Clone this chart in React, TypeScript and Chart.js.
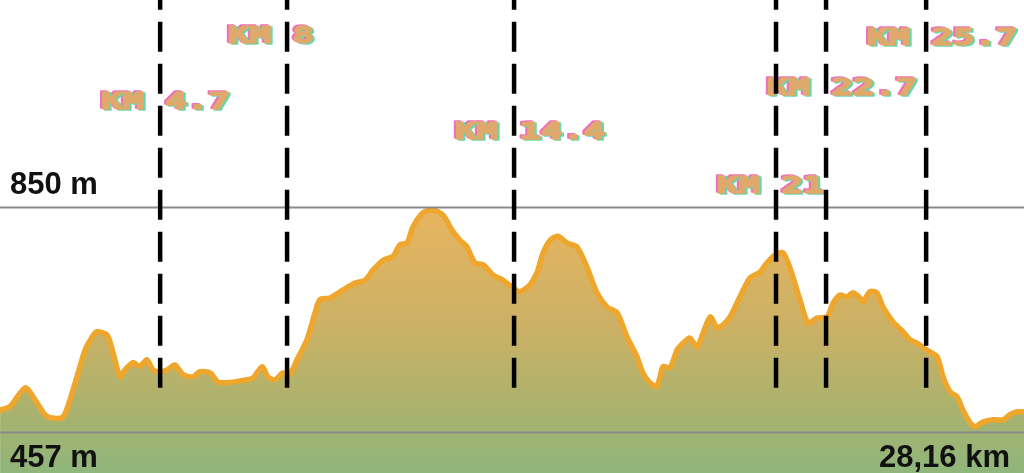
import React, { useEffect, useRef } from "react";
import { Chart, registerables } from "chart.js";

Chart.register(...registerables);

// Distance along the route (km) and elevation (m), read from the profile
const kms = [
  0.28, 0.55, 0.96, 1.23, 1.5, 1.69, 1.99, 2.18, 2.4, 2.59,
  2.78, 2.91, 3.19, 3.35, 3.54, 3.67, 3.89, 4.08, 4.27, 4.44,
  4.63, 4.82, 5.03, 5.25, 5.52, 5.71, 5.99, 6.2, 6.45, 6.8,
  7.15, 7.4, 7.56, 7.75, 7.97, 8.16, 8.35, 8.62, 8.84, 8.97,
  9.25, 9.6, 9.93, 10.2, 10.42, 10.69, 10.96, 11.15, 11.34, 11.5,
  11.77, 12.05, 12.32, 12.56, 12.78, 12.97, 13.19, 13.41, 13.68, 13.95,
  14.22, 14.41, 14.68, 14.87, 15.04, 15.23, 15.44, 15.69, 15.96, 16.23,
  16.5, 16.78, 17.05, 17.32, 17.59, 17.75, 17.94, 18.13, 18.3, 18.49,
  18.68, 18.84, 19.03, 19.22, 19.39, 19.58, 19.77, 19.93, 20.12, 20.39,
  20.66, 20.93, 21.12, 21.34, 21.56, 21.75, 22.02, 22.24, 22.48, 22.76,
  22.92, 23.11, 23.3, 23.46, 23.65, 23.73, 23.92, 24.11, 24.28, 24.55,
  24.82, 25.01, 25.2, 25.47, 25.75, 25.91, 26.1, 26.29, 26.45, 26.64,
  26.78, 26.99, 27.27, 27.54, 27.73, 27.92, 28.11,
];

const elevations = [
  495, 501, 534, 513, 487, 481, 483, 513, 560, 600,
  623, 632, 626, 595, 553, 565, 578, 571, 583, 565,
  562, 565, 574, 557, 553, 562, 560, 544, 543, 546,
  551, 571, 553, 548, 560, 558, 583, 618, 665, 688,
  691, 705, 717, 722, 740, 757, 764, 784, 787, 815,
  840, 845, 836, 810, 792, 780, 752, 749, 731, 722,
  709, 702, 714, 735, 770, 792, 799, 787, 780, 745,
  700, 675, 665, 623, 588, 560, 543, 536, 571, 569,
  600, 612, 621, 605, 630, 658, 639, 644, 658, 693,
  726, 736, 752, 766, 770, 743, 688, 647, 656, 658,
  682, 696, 693, 700, 691, 684, 702, 700, 675, 649,
  632, 618, 612, 600, 588, 553, 527, 518, 495, 473,
  466, 474, 478, 478, 487, 492, 492,
];

// Waypoint markers: where each dashed line sits on the km axis, and its label
const markerKms = [4.63, 8.08, 14.25, 21.37, 22.73, 25.45];
const markerLabels = ["KM 4.7", "KM 8", "KM 14.4", "KM 21", "KM 22.7", "KM 25.7"];

// Reference elevations and texts
const refElevations = [850, 457];
const refLabels = ["850 m", "457 m"];
const distanceLabel = "28,16 km";

// Style-only settings
const X_MIN = 0.277;
const X_MAX = 28.11;
const Y_MIN = 385;
const Y_MAX = 1212;
const DASH_BOTTOM_ELEV = 534;
const LABEL_ROWS_PX = [103, 37, 133, 187, 89, 39];

const overlay = {
  id: "overlay",
  afterDatasetsDraw(chart: any) {
    const ctx: CanvasRenderingContext2D = chart.ctx;
    const xs = chart.scales.x;
    const ys = chart.scales.y;
    const W = chart.width;
    const H = chart.height;
    ctx.save();

    // grey reference lines
    ctx.strokeStyle = "#8a8a8a";
    ctx.lineWidth = 2;
    refElevations.forEach((v) => {
      const py = Math.round(ys.getPixelForValue(v)) + 0.5;
      ctx.beginPath();
      ctx.moveTo(0, py);
      ctx.lineTo(W, py);
      ctx.stroke();
    });

    // marker labels (retro chromatic text)
    ctx.font = 'bold 23px "DejaVu Sans Mono", monospace';
    ctx.textBaseline = "middle";
    ctx.textAlign = "left";
    ctx.lineJoin = "round";
    markerKms.forEach((k, i) => {
      const px = xs.getPixelForValue(k);
      const left = px - 59;
      const cy = LABEL_ROWS_PX[i];
      const layers: [number, number, string][] = [
        [-2, -1, "rgba(238,105,190,0.95)"],
        [2, 1, "rgba(95,215,170,0.95)"],
        [0, 0, "#e0a96c"],
      ];
      layers.forEach(([dx, dy, col]) => {
        ctx.save();
        ctx.translate(left + dx, cy + dy);
        ctx.scale(1.55, 1.0);
        ctx.fillStyle = col;
        ctx.strokeStyle = col;
        ctx.lineWidth = 1.6;
        ctx.fillText(markerLabels[i], 0, 0);
        ctx.strokeText(markerLabels[i], 0, 0);
        ctx.restore();
      });
    });

    // dashed vertical lines
    ctx.setLineDash([30, 12]);
    ctx.lineWidth = 4.5;
    ctx.strokeStyle = "#000";
    ctx.lineCap = "butt";
    const bottom = ys.getPixelForValue(DASH_BOTTOM_ELEV);
    markerKms.forEach((k) => {
      const px = xs.getPixelForValue(k);
      ctx.beginPath();
      ctx.moveTo(px, bottom);
      ctx.lineTo(px, 0);
      ctx.stroke();
    });
    ctx.setLineDash([]);

    // axis texts
    ctx.font = 'bold 31px "Liberation Sans", Arial, sans-serif';
    ctx.fillStyle = "#111";
    ctx.textBaseline = "alphabetic";
    ctx.textAlign = "left";
    ctx.fillText(refLabels[0], 10, ys.getPixelForValue(refElevations[0]) - 13);
    ctx.fillText(refLabels[1], 10, H - 6);
    ctx.textAlign = "right";
    ctx.fillText(distanceLabel, 1010, H - 6);

    ctx.restore();
  },
};

export default function App() {
  const ref = useRef<HTMLCanvasElement | null>(null);

  useEffect(() => {
    const canvas = ref.current;
    if (!canvas) return;
    const chart = new Chart(canvas, {
      type: "line",
      data: {
        datasets: [
          {
            data: kms.map((k, i) => ({ x: k, y: elevations[i] })),
            borderColor: "#efa62c",
            borderWidth: 5.5,
            borderJoinStyle: "round",
            borderCapStyle: "round",
            pointRadius: 0,
            tension: 0.25,
            fill: "start",
            backgroundColor: (c: any) => {
              const ch = c.chart;
              const area = ch.chartArea;
              if (!area) return "#c4b066";
              const ys = ch.scales.y;
              const top = ys.getPixelForValue(850);
              const g = ch.ctx.createLinearGradient(0, top, 0, area.bottom);
              g.addColorStop(0, "#e8b460");
              g.addColorStop(0.45, "#cbb165");
              g.addColorStop(0.78, "#a8b26e");
              g.addColorStop(1, "#8fb67c");
              return g;
            },
          },
        ],
      },
      options: {
        animation: false,
        responsive: false,
        devicePixelRatio: 1,
        layout: { padding: 0 },
        plugins: { legend: { display: false }, tooltip: { enabled: false } },
        scales: {
          x: { type: "linear", min: X_MIN, max: X_MAX, display: false },
          y: { type: "linear", min: Y_MIN, max: Y_MAX, display: false },
        },
      },
      plugins: [overlay],
    });
    return () => chart.destroy();
  }, []);

  return (
    <div style={{ position: "absolute", left: 0, top: 0, width: 1024, height: 473, background: "#fff" }}>
      <canvas ref={ref} width={1024} height={473} style={{ display: "block", width: 1024, height: 473 }} />
    </div>
  );
}
